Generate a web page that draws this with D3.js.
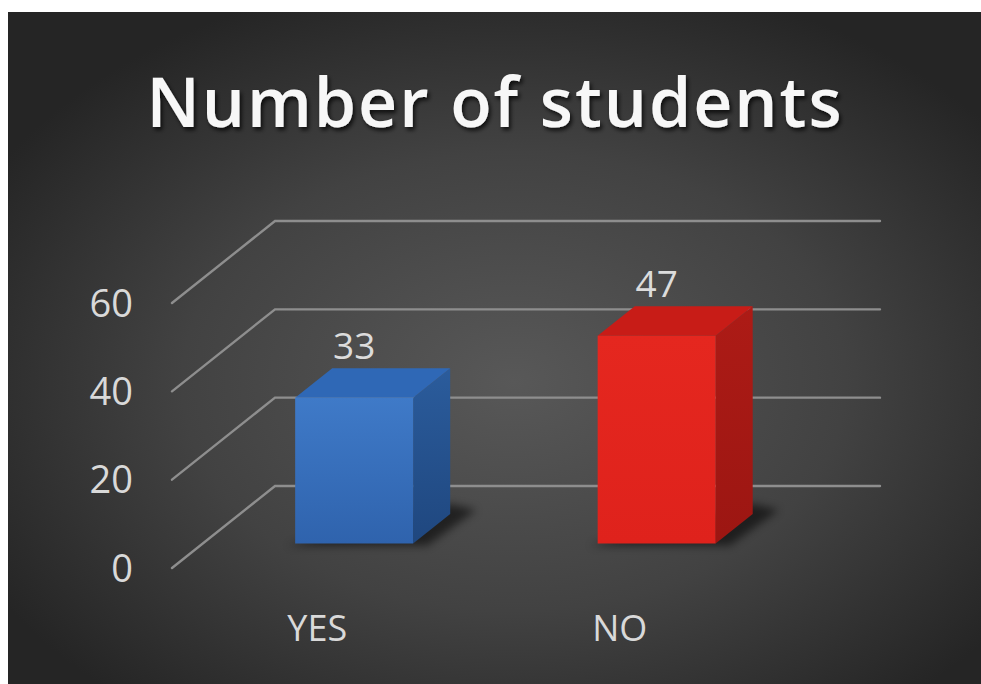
<!DOCTYPE html>
<html>
<head>
<meta charset="utf-8">
<script src="https://cdn.jsdelivr.net/npm/d3@7"></script>
<style>
  html, body { margin: 0; padding: 0; background: #ffffff; }
  svg { display: block; }
</style>
</head>
<body>
<script>
// Chart data
const categories = ["YES", "NO"];
const values = [33, 47];
const yTicks = [0, 20, 40, 60];
const titleText = "Number of students";

// Face colours per bar: [front top, front bottom, top, side top, side bottom]
const barFaces = [
  ["#3f7ac8", "#2f63ad", "#2f68b6", "#2b5c9c", "#1f477f"],
  ["#e5271f", "#df221c", "#c81c17", "#ad1b16", "#9c1612"]
];

const W = 981, H = 684;
const svg = d3.select("body").append("svg").attr("width", W).attr("height", H);
const defs = svg.append("defs");

// Background panel gradient
const bg = defs.append("radialGradient").attr("id", "bgGrad")
  .attr("cx", "52%").attr("cy", "55%").attr("r", "62%");
bg.append("stop").attr("offset", "0%").attr("stop-color", "#585858");
bg.append("stop").attr("offset", "55%").attr("stop-color", "#424242");
bg.append("stop").attr("offset", "100%").attr("stop-color", "#252525");

svg.append("rect").attr("x", 8).attr("y", 12).attr("width", W - 8).attr("height", H - 12)
  .attr("fill", "url(#bgGrad)");

// Filters
const ts = defs.append("filter").attr("id", "titleShadow")
  .attr("x", "-10%").attr("y", "-30%").attr("width", "120%").attr("height", "160%");
ts.append("feDropShadow").attr("dx", 2).attr("dy", 3).attr("stdDeviation", 2.2)
  .attr("flood-color", "#000").attr("flood-opacity", 0.75);

const sh = defs.append("filter").attr("id", "floorShadow")
  .attr("x", "-50%").attr("y", "-50%").attr("width", "200%").attr("height", "200%");
sh.append("feGaussianBlur").attr("stdDeviation", 4);

// Title
svg.append("text")
  .attr("x", 494).attr("y", 127)
  .attr("text-anchor", "middle")
  .attr("font-family", "'Open Sans', 'DejaVu Sans', sans-serif")
  .attr("font-weight", 600)
  .attr("font-size", 68)
  .attr("textLength", 695)
  .attr("lengthAdjust", "spacing")
  .attr("fill", "#f7f7f7")
  .attr("filter", "url(#titleShadow)")
  .text(titleText);

// 3D projection: front floor edge, depth vector toward the back wall
const xFrontLeft = 172, xFrontRight = 777;
const DX = 103, DY = 82;
const y = d3.scaleLinear().domain([0, 60]).range([568, 303]);
const x = d3.scaleBand().domain(categories)
  .range([xFrontLeft, xFrontRight])
  .paddingInner(0.61).paddingOuter(0.305);
const proj = (px, v, t) => [px + t * DX, y(v) - t * DY];

// Gridlines: diagonal side wall + horizontal back wall
const grid = svg.append("g").attr("stroke", "#8e8e8e").attr("stroke-width", 2.4)
  .attr("fill", "none").attr("stroke-linecap", "round");
yTicks.forEach(v => {
  const a = proj(xFrontLeft, v, 0), b = proj(xFrontLeft, v, 1), c = proj(xFrontRight, v, 1);
  grid.append("polyline").attr("points", [a, b, c].map(p => p.join(",")).join(" "));
});

// Tick labels
svg.append("g").selectAll("text").data(yTicks).join("text")
  .attr("x", 133).attr("y", d => y(d))
  .attr("dy", "0.36em")
  .attr("text-anchor", "end")
  .attr("font-family", "'Open Sans', 'DejaVu Sans', sans-serif")
  .attr("font-size", 38)
  .attr("fill", "#d9d9d9")
  .text(d => d);

// Bars
const t1 = 0.30, t2 = 0.66;
const bars = svg.append("g");
categories.forEach((cat, i) => {
  const v = values[i];
  const f = barFaces[i];
  const x0 = x(cat), x1 = x(cat) + x.bandwidth();

  const gFront = defs.append("linearGradient").attr("id", "front" + i)
    .attr("x1", 0).attr("y1", 0).attr("x2", 0).attr("y2", 1);
  gFront.append("stop").attr("offset", "0%").attr("stop-color", f[0]);
  gFront.append("stop").attr("offset", "100%").attr("stop-color", f[1]);
  const gSide = defs.append("linearGradient").attr("id", "side" + i)
    .attr("x1", 0).attr("y1", 0).attr("x2", 0).attr("y2", 1);
  gSide.append("stop").attr("offset", "0%").attr("stop-color", f[3]);
  gSide.append("stop").attr("offset", "100%").attr("stop-color", f[4]);

  const FBL = proj(x0, 0, t1), FBR = proj(x1, 0, t1), FTL = proj(x0, v, t1), FTR = proj(x1, v, t1);
  const BBR = proj(x1, 0, t2), BTL = proj(x0, v, t2), BTR = proj(x1, v, t2);
  const pts = arr => arr.map(p => p.join(",")).join(" ");

  // soft floor shadow
  bars.append("polygon")
    .attr("points", pts([[FBL[0] - 8, FBL[1] + 2], [FBR[0] + 14, FBR[1] + 2], [BBR[0] + 26, BBR[1] - 4], [BBR[0], BBR[1] - 10]]))
    .attr("fill", "#000").attr("opacity", 0.55).attr("filter", "url(#floorShadow)");

  bars.append("polygon").attr("points", pts([FTR, BTR, BBR, FBR])).attr("fill", `url(#side${i})`);
  bars.append("polygon").attr("points", pts([FTL, BTL, BTR, FTR])).attr("fill", f[2]);
  bars.append("polygon").attr("points", pts([FBL, FTL, FTR, FBR])).attr("fill", `url(#front${i})`);

  // value label above bar
  svg.append("text")
    .attr("x", (FTL[0] + FTR[0]) / 2)
    .attr("y", BTL[1] - 9)
    .attr("text-anchor", "middle")
    .attr("font-family", "'Open Sans', 'DejaVu Sans', sans-serif")
    .attr("font-size", 37)
    .attr("fill", "#dcdcdc")
    .text(v);
});

// Category labels along the front floor edge
svg.append("g").selectAll("text").data(categories).join("text")
  .attr("x", d => x(d) + x.bandwidth() / 2 - 6)
  .attr("y", 641)
  .attr("text-anchor", "middle")
  .attr("font-family", "'Open Sans', 'DejaVu Sans', sans-serif")
  .attr("font-size", 36)
  .attr("fill", "#d9d9d9")
  .text(d => d);
</script>
</body>
</html>
